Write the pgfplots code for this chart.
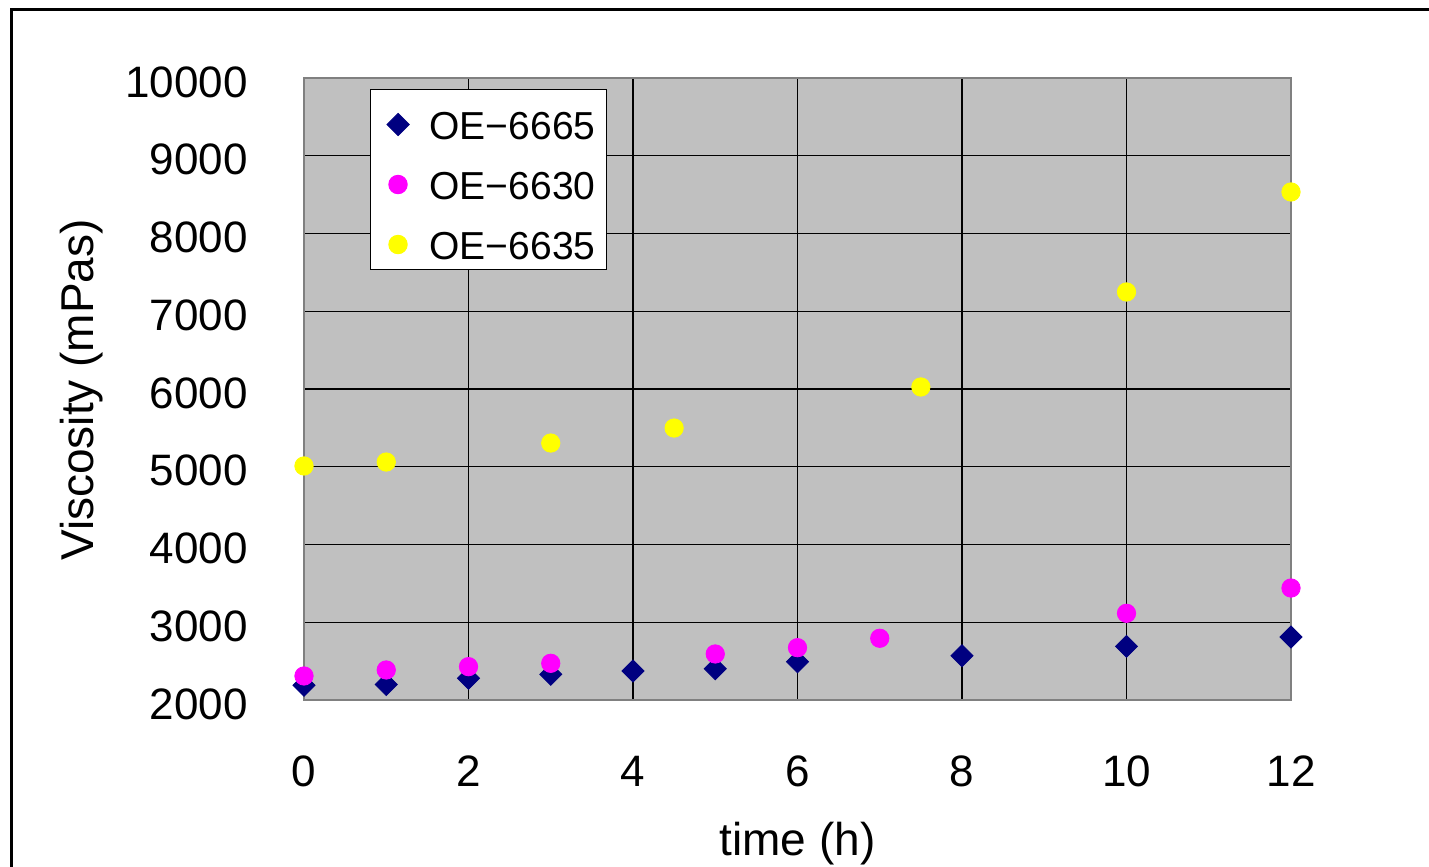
\documentclass[border=0pt]{standalone}
\usepackage{fontspec}
\setmainfont{Liberation Sans}
\usepackage{pgfplots}
\pgfplotsset{compat=1.18}
\usepackage{pgfplotstable}

\definecolor{plotbg}{HTML}{C0C0C0}
\definecolor{frameGray}{HTML}{808080}
\definecolor{navyS}{HTML}{000080}
\definecolor{magS}{HTML}{FF00FF}
\definecolor{yelS}{HTML}{FFFF00}

% OE-6665
\pgfplotstableread{
x y
0 2190
1 2200
2 2280
3 2330
4 2373
5 2403
6 2493
8 2570
10 2690
12 2810
}\tabA
% OE-6630
\pgfplotstableread{
x y
0 2309
1 2386
2 2429
3 2472
5 2592
6 2673
7 2794
10 3115
12 3440
}\tabB
% OE-6635
\pgfplotstableread{
x y
0 5010
1 5061
3 5305
4.5 5498
7.5 6026
10 7248
12 8534
}\tabC

\begin{document}
\begin{tikzpicture}
\path[use as bounding box] (-152pt,-83.5pt) rectangle (562.5pt,350pt);
\draw[black, line width=1.5pt] (-146pt,-90pt) -- (-146pt,345pt) -- (570pt,345pt);
\begin{axis}[
    at={(0,0)}, anchor=south west,
    scale only axis,
    width=493.5pt, height=311pt,
    xmin=0, xmax=12, ymin=2000, ymax=10000,
    xtick={0,2,...,12},
    ytick={2000,3000,...,10000},
    scaled y ticks=false,
    grid=major,
    major grid style={black, line width=0.6pt},
    axis background/.style={fill=plotbg},
    axis line style={draw=frameGray, line width=1.3pt},
    major tick length=0pt,
    clip=false,
    /pgf/number format/assume math mode=true,
    /pgf/number format/1000 sep={},
    tick label style={font=\fontsize{22}{26}\selectfont, inner sep=0pt},
    yticklabel style={anchor=east, xshift=-28pt, yshift=-2pt},
    xticklabel style={anchor=center, yshift=-35.5pt},
    xlabel={time (h)},
    ylabel={Viscosity (mPas)},
    every axis x label/.style={at={(axis description cs:0.5,-0.2301)}, anchor=center,
        font=\fontsize{23}{27}\selectfont},
    every axis y label/.style={at={(axis description cs:-0.2249,0.4984)}, anchor=center, rotate=90,
        font=\fontsize{23}{27}\selectfont},
    legend style={
        at={(axis description cs:0.0669,0.9823)}, anchor=north west,
        fill=white, draw=black, line width=0.5pt,
        font=\fontsize{19.5}{23}\selectfont,
        nodes={inner xsep=0pt, inner ysep=0pt, text height=20pt, text depth=0pt},
        row sep=10pt,
        inner xsep=5.5pt, inner ysep=5pt,
    },
    legend image code/.code={
        \path (0pt,0pt) (23.5pt,0pt);
        \draw plot coordinates {(8pt,-2.5pt)};
    },
    legend cell align=left,
]
\addplot[only marks, mark=square*, mark size=3.9pt, mark options={rotate=45, fill=navyS, draw=navyS}] table {\tabA};
\addplot[only marks, mark=*, mark size=4.6pt, mark options={fill=magS, draw=magS}] table {\tabB};
\addplot[only marks, mark=*, mark size=4.6pt, mark options={fill=yelS, draw=yelS}] table {\tabC};
\legend{OE−6665, OE−6630, OE−6635}
\end{axis}
\end{tikzpicture}
\end{document}
